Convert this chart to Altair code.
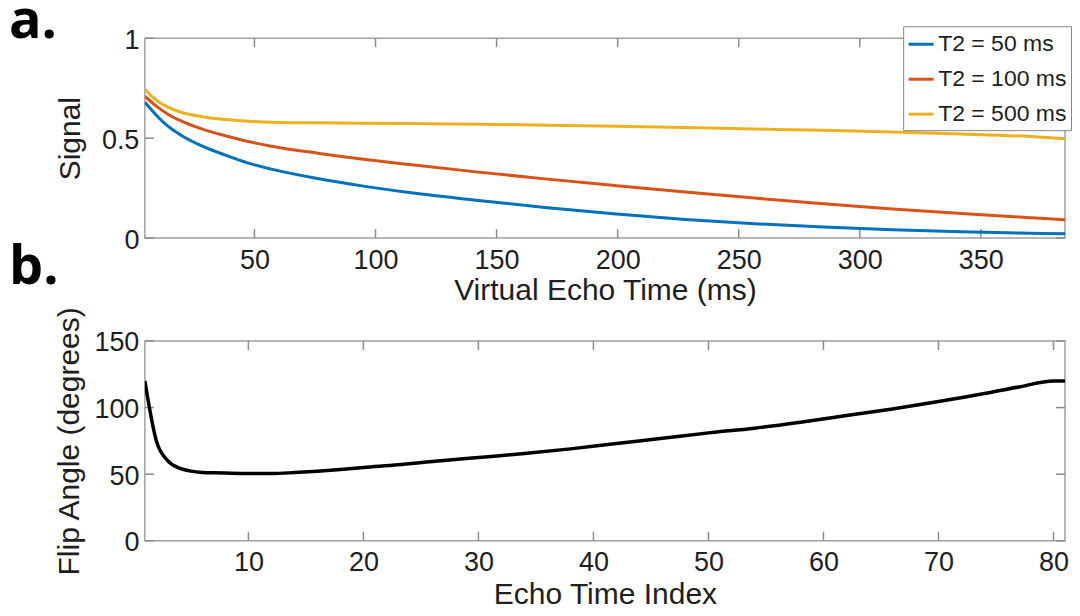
import altair as alt
import pandas as pd

# ---------------- data ----------------
echo_time_ms = [4.75, 9.5, 14.25, 19, 28.5, 38, 47.5, 57, 76, 95, 114, 142.5,
                171, 199.5, 228, 256.5, 285, 313.5, 342, 370.5, 384.75]
signal_t2_50 = [0.68, 0.615, 0.56, 0.52, 0.46, 0.415, 0.375, 0.345, 0.298, 0.26,
                0.228, 0.188, 0.152, 0.12, 0.093, 0.072, 0.055, 0.042, 0.032, 0.024, 0.021]
signal_t2_100 = [0.71, 0.66, 0.62, 0.59, 0.545, 0.512, 0.483, 0.46, 0.425, 0.395,
                 0.368, 0.33, 0.295, 0.262, 0.23, 0.2, 0.172, 0.146, 0.123, 0.102, 0.092]
signal_t2_500 = [0.745, 0.69, 0.655, 0.632, 0.607, 0.593, 0.585, 0.58, 0.577, 0.575,
                 0.573, 0.57, 0.565, 0.559, 0.553, 0.546, 0.539, 0.531, 0.521, 0.508, 0.497]
series_labels = ["T2 = 50 ms", "T2 = 100 ms", "T2 = 500 ms"]
series_colors = ["#0072BD", "#D95319", "#EDB120"]

echo_index = [1, 2, 3, 4, 5, 6, 7, 8, 10, 12, 14, 16, 18, 20, 23, 26, 30, 34, 38,
              42, 46, 50, 54, 58, 62, 66, 70, 74, 77, 80, 81]
flip_angle_deg = [120, 75, 60, 54.5, 52.3, 51.3, 51, 50.8, 50.5, 50.5, 51.2, 52.2,
                  53.5, 55, 57, 59.5, 62.5, 65.5, 69, 73, 77, 81, 84.5, 89, 94, 99,
                  104.5, 110.5, 115.5, 120, 120]

x_ticks_a = [50, 100, 150, 200, 250, 300, 350]
y_ticks_a = [0, 0.5, 1]
x_ticks_b = [10, 20, 30, 40, 50, 60, 70, 80]
y_ticks_b = [0, 50, 100, 150]
panel_letters = ["a.", "b."]

# ---------------- styling ----------------
W, H = 921, 200
FONT = "Liberation Sans"
TXT = "#1e1e1e"
GRAY = "#a0a0a0"
TICK_COLOR = "#8c8c8c"
TICK = 9
LABEL_SIZE = 27
TITLE_SIZE = 30

df_a = pd.DataFrame({
    "time": echo_time_ms * 3,
    "signal": signal_t2_50 + signal_t2_100 + signal_t2_500,
    "series": [series_labels[0]] * len(echo_time_ms)
              + [series_labels[1]] * len(echo_time_ms)
              + [series_labels[2]] * len(echo_time_ms),
})
df_b = pd.DataFrame({"index": echo_index, "angle": flip_angle_deg})


def x_axis(title, values, title_y):
    return alt.Axis(values=values, title=title, grid=False, ticks=False, domain=False,
                    labelFont=FONT, labelFontSize=LABEL_SIZE, labelColor=TXT,
                    labelPadding=9, labelFlush=False, labelOverlap=False,
                    titleFont=FONT, titleFontSize=TITLE_SIZE, titleFontWeight="normal",
                    titleColor=TXT, titleBaseline="alphabetic", titleY=title_y)


def y_axis(title, values, title_x, fmt):
    return alt.Axis(values=values, title=title, grid=False, ticks=False, domain=False,
                    format=fmt, labelFont=FONT, labelFontSize=LABEL_SIZE, labelColor=TXT,
                    labelPadding=6, labelOffset=2, labelFlush=False, labelOverlap=False,
                    titleFont=FONT, titleFontSize=TITLE_SIZE, titleFontWeight="normal",
                    titleColor=TXT, titleBaseline="alphabetic", titleAngle=270,
                    titleX=title_x, titleY=H / 2)


def tick_layers(xvals, yvals, xs, ys):
    dx = pd.DataFrame({"t": xvals})
    dy = pd.DataFrame({"v": yvals})
    base_x = alt.Chart(dx).mark_rule(color=TICK_COLOR, strokeWidth=1.5)
    base_y = alt.Chart(dy).mark_rule(color=TICK_COLOR, strokeWidth=1.5)
    X = alt.X("t:Q", scale=xs, axis=None)
    Y = alt.Y("v:Q", scale=ys, axis=None)
    xb = base_x.encode(x=X, y=alt.value(H), y2=alt.value(H - TICK))
    xt = base_x.encode(x=X, y=alt.value(0), y2=alt.value(TICK))
    yl = base_y.encode(y=Y, x=alt.value(0), x2=alt.value(TICK))
    yr = base_y.encode(y=Y, x=alt.value(W - TICK), x2=alt.value(W))
    return [xb, xt, yl, yr]


def letter(text, y):
    return alt.Chart(pd.DataFrame({"letter": [text]})).mark_text(
        align="left", baseline="alphabetic", font="Open Sans", fontWeight="bold",
        fontSize=54, color="black"
    ).encode(text="letter:N", x=alt.value(-136), y=alt.value(y))


# ---------------- panel a ----------------
xs_a = alt.Scale(domain=[4.75, 384.75], nice=False, zero=False)
ys_a = alt.Scale(domain=[0, 1], nice=False, zero=False)

lines_a = alt.Chart(df_a).mark_line(strokeWidth=3, interpolate="monotone", clip=True).encode(
    x=alt.X("time:Q", scale=xs_a, axis=x_axis("Virtual Echo Time (ms)", x_ticks_a, 61)),
    y=alt.Y("signal:Q", scale=ys_a, axis=y_axis("Signal", y_ticks_a, -65, "~g")),
    color=alt.Color("series:N",
                    scale=alt.Scale(domain=series_labels, range=series_colors),
                    legend=alt.Legend(orient="none", legendX=759, legendY=-12, title=None,
                                      symbolType="stroke", symbolSize=625,
                                      symbolStrokeWidth=3, labelFont=FONT,
                                      labelFontSize=23, labelColor=TXT, labelOffset=3,
                                      rowPadding=9, padding=4, strokeColor="#858585",
                                      fillColor="white", cornerRadius=0)),
)

panel_a = alt.layer(
    *tick_layers(x_ticks_a, y_ticks_a, xs_a, ys_a), lines_a,
    letter(panel_letters[0], 0), letter(panel_letters[1], 246)
).resolve_axis(x="independent", y="independent").properties(width=W, height=H)

# ---------------- panel b ----------------
xs_b = alt.Scale(domain=[1, 81], nice=False, zero=False)
ys_b = alt.Scale(domain=[0, 150], nice=False, zero=False)

line_b = alt.Chart(df_b).mark_line(strokeWidth=3.5, color="black",
                                   interpolate="monotone", clip=True).encode(
    x=alt.X("index:Q", scale=xs_b, axis=x_axis("Echo Time Index", x_ticks_b, 63)),
    y=alt.Y("angle:Q", scale=ys_b, axis=y_axis("Flip Angle (degrees)", y_ticks_b, -66, "d")),
)

panel_b = alt.layer(
    *tick_layers(x_ticks_b, y_ticks_b, xs_b, ys_b), line_b
).resolve_axis(x="independent", y="independent").properties(width=W, height=H)

chart = alt.vconcat(panel_a, panel_b, spacing=103, bounds="flush").properties(
    padding={"left": 0, "top": -14, "right": 0, "bottom": 0},
).configure_view(stroke=GRAY, strokeWidth=1.5)

chart.save("out.html", embed_options={"renderer": "svg", "actions": False})
